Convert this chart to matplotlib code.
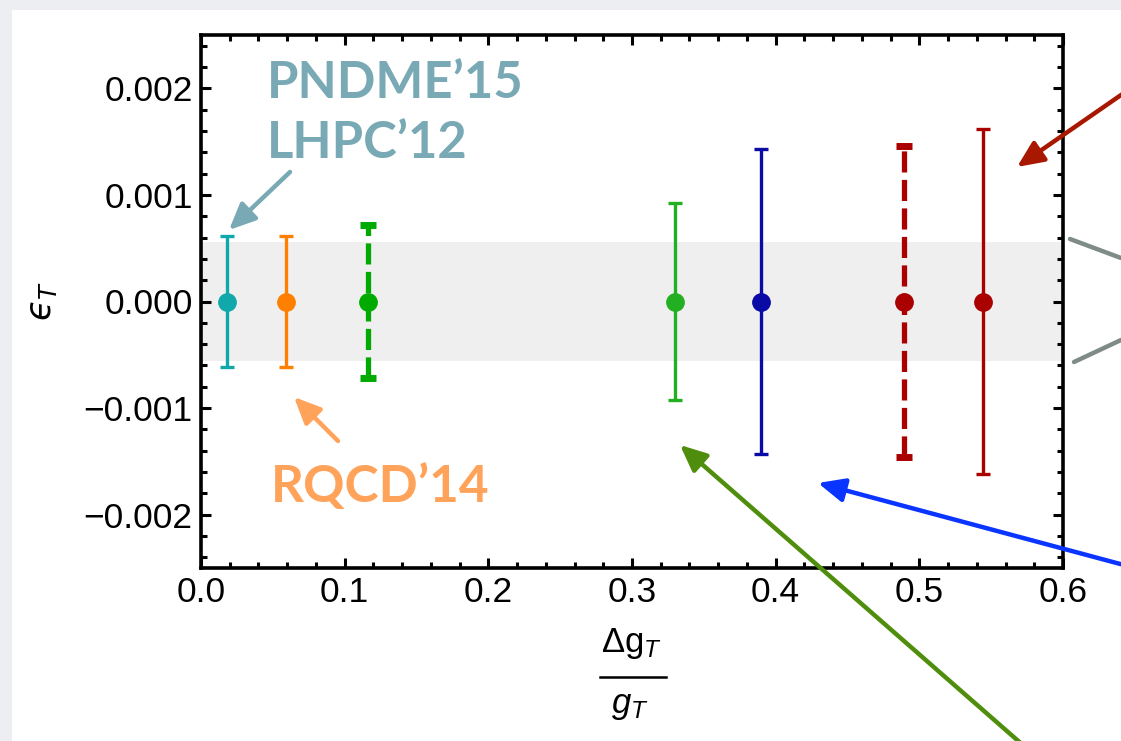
import matplotlib
matplotlib.use("Agg")
import matplotlib.pyplot as plt
from matplotlib.patches import Rectangle
from matplotlib.lines import Line2D
from matplotlib.ticker import MultipleLocator, FuncFormatter

plt.rcParams['font.family'] = ['Liberation Sans', 'DejaVu Sans']
plt.rcParams['mathtext.fontset'] = 'custom'
plt.rcParams['mathtext.rm'] = 'Liberation Sans'
plt.rcParams['mathtext.it'] = 'Liberation Sans:italic'
plt.rcParams['mathtext.fallback'] = 'stixsans'

# tensor-charge ratio positions and eps_T bounds
ratio = [0.018, 0.059, 0.116, 0.330, 0.390, 0.489, 0.544]
eps_central = [0.0, 0.0, 0.0, 0.0, 0.0, 0.0, 0.0]
eps_error = [0.00061, 0.00061, 0.00072, 0.00092, 0.00143, 0.00146, 0.00162]
colors = ['#10a8aa', '#ff8000', '#00aa00', '#22b022', '#0a0aa5', '#aa0000', '#aa0000']
dashed = [False, False, True, False, False, True, False]
band = 0.00056

W, H = 1121, 741
fig = plt.figure(figsize=(W / 100, H / 100), dpi=100, facecolor='#eceef1')
fig.add_artist(Rectangle((12 / W, 0), 1, 1 - 10 / H, transform=fig.transFigure,
                         facecolor='white', edgecolor='none', zorder=-10))

ax = fig.add_axes([201 / W, 1 - 568 / H, 862 / W, 533 / H])
ax.set_facecolor('white')
ax.axhspan(-band, band, color='#efefef', zorder=0, lw=0)

for xv, yv, ev, c, d in zip(ratio, eps_central, eps_error, colors, dashed):
    lw = 3.8 if d else 2.4
    eb = ax.errorbar([xv], [yv], yerr=[ev], fmt='o', color=c, ms=12.5,
                     elinewidth=lw, capsize=6.0 if d else 4.8,
                     capthick=5.0 if d else 2.4, zorder=3)
    if d:
        eb[2][0].set_linestyle((0, (4.0, 1.4)))


def fmt(prec):
    return FuncFormatter(lambda v, p: f'{v:.{prec}f}'.replace('-', '\u2212')
                         if abs(v) > 1e-12 else f'{0:.{prec}f}')


ax.set_xlim(0, 0.6)
ax.set_ylim(-0.0025, 0.0025)
ax.xaxis.set_major_locator(MultipleLocator(0.1))
ax.xaxis.set_minor_locator(MultipleLocator(0.02))
ax.yaxis.set_major_locator(MultipleLocator(0.001))
ax.yaxis.set_minor_locator(MultipleLocator(0.0002))
ax.xaxis.set_major_formatter(fmt(1))
ax.yaxis.set_major_formatter(fmt(3))
ax.tick_params(which='both', direction='in', top=True, right=True, width=2.2,
               labelsize=25.5, color='black')
ax.tick_params(which='major', length=7.5, pad=6)
ax.tick_params(which='minor', length=4.5)
for s in ax.spines.values():
    s.set_linewidth(2.6)

ax.set_ylabel(r'$ϵ_T$', fontsize=25, labelpad=18, math_fontfamily='dejavusans')

# x-axis label drawn as a stacked fraction
fig.text(632 / W, 1 - 652 / H, r'$\Delta\mathrm{g}_T$', fontsize=25,
         ha='center', va='baseline')
fig.add_artist(Line2D([600 / W, 666 / W], [1 - 677 / H, 1 - 677 / H],
                      transform=fig.transFigure, color='black', lw=1.8))
fig.text(630 / W, 1 - 713 / H, r'$g_T$', fontsize=25, ha='center', va='baseline')

# annotations
fig.text(267 / W, 1 - 98 / H, 'PNDME’15', family='Lato', weight='bold',
         fontsize=36.5, color='#78a9b4', ha='left', va='baseline')
fig.text(267 / W, 1 - 158 / H, 'LHPC’12', family='Lato', weight='bold',
         fontsize=36.5, color='#78a9b4', ha='left', va='baseline')
fig.text(271 / W, 1 - 502 / H, 'RQCD’14', family='Lato', weight='bold',
         fontsize=37, color='#ffa25a', ha='left', va='baseline')


def arrow(tip, tail, color, lw, head=True):
    style = '-|>,head_length=0.8,head_width=0.36' if head else '-'
    ax.annotate('', xy=(tip[0] / W, 1 - tip[1] / H), xycoords='figure fraction',
                xytext=(tail[0] / W, 1 - tail[1] / H), textcoords='figure fraction',
                arrowprops=dict(arrowstyle=style, color=color, lw=lw,
                                mutation_scale=20, shrinkA=0, shrinkB=0),
                annotation_clip=False)


arrow((229, 230), (290, 172), '#78a9b4', 3.2)
arrow((294, 397), (338, 441), '#ffa25a', 3.2)
arrow((1017, 167), (1160, 68), '#a81800', 3.2)
arrow((818, 483), (1180, 580), '#0a34ff', 3.2)
arrow((680, 445), (1040, 760), '#4f8d0c', 3.2)
arrow((1121, 258), (1070, 239), '#7f8b87', 3.2, head=False)
arrow((1121, 340), (1074, 362), '#7f8b87', 3.2, head=False)

fig.savefig('out.png', dpi=100, facecolor=fig.get_facecolor())
